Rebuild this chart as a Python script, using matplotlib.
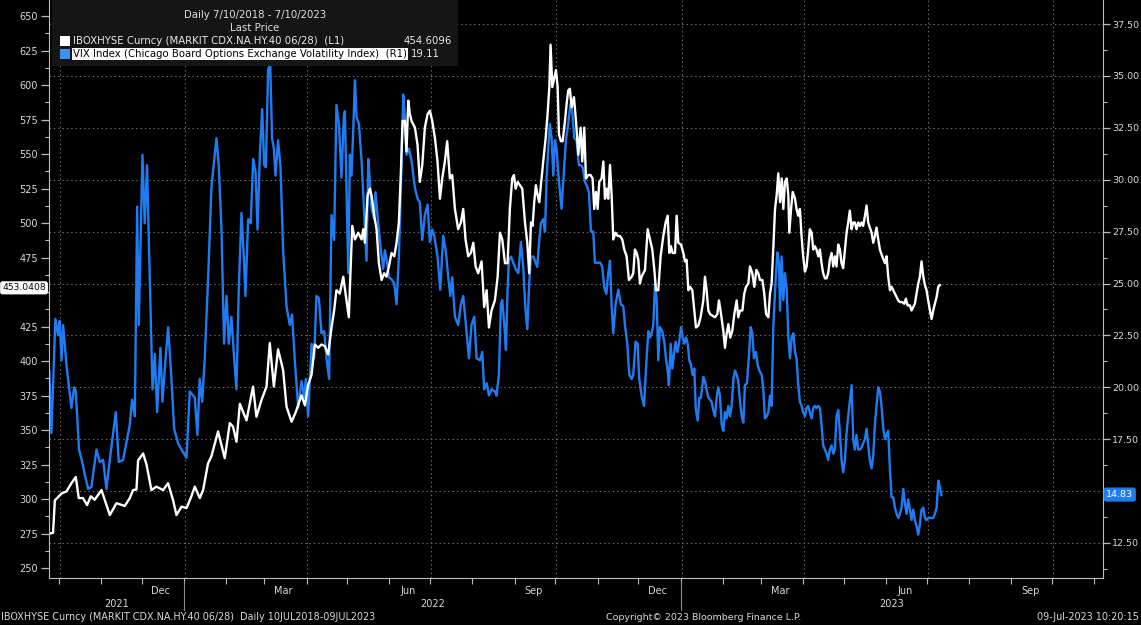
import matplotlib
matplotlib.use("Agg")
import matplotlib.pyplot as plt
import matplotlib.dates as mdates
import matplotlib.ticker as mticker
import matplotlib.transforms as mtrans
from matplotlib.patches import Rectangle
import pandas as pd

plt.rcParams['font.family'] = ['DejaVu Sans']

# ---------------- data ----------------
base_date = pd.Timestamp("2022-01-01")
view_start = pd.Timestamp("2021-09-23 17:00")
view_end = pd.Timestamp("2023-11-07 12:00")

# IBOXHYSE (CDX HY spread, left axis): days from 2022-01-01, values
hy_days = [
    -98.8, -96.3, -95.0, -90.1, -86.5, -82.8, -79.6, -77.4, -74.3, -71.3,
    -68.6, -65.7, -60.7, -54.6, -49.7, -43.6, -39.9, -37.5, -35.0, -33.8,
    -30.1, -27.6, -24.0, -20.3, -15.4, -11.8, -8.1, -5.6, -1.9, 1.8,
    5.4, 7.9, 11.5, 14.0, 17.6, 20.1, 25.0, 29.9, 33.6, 36.0,
    38.5, 41.0, 45.9, 50.7, 53.2, 56.9, 60.6, 63.0, 66.0, 69.1,
    72.8, 75.3, 79.0, 82.1, 86.3, 88.8, 91.2, 93.7, 96.1, 98.6,
    101.0, 103.5, 105.9, 108.4, 110.3, 112.0, 114.5, 117.0, 121.1, 123.6,
    125.6, 128.0, 130.5, 131.7, 132.9, 134.9, 136.6, 137.8, 139.8, 141.5,
    143.2, 145.2, 147.1, 148.8, 150.6, 152.5, 154.5, 156.2, 157.9, 159.4,
    160.6, 162.3, 163.5, 164.8, 166.0, 167.2, 169.7, 171.6, 173.3, 175.1,
    177.0, 179.0, 180.7, 182.4, 184.4, 186.3, 188.1, 189.8, 191.7, 193.4,
    195.4, 197.1, 199.1, 201.5, 203.5, 205.2, 206.9, 208.9, 210.8, 212.6,
    214.3, 216.2, 218.7, 220.6, 222.4, 224.1, 226.0, 228.5, 230.5, 232.2,
    233.9, 235.9, 237.8, 239.5, 241.2, 242.5, 243.7, 245.2, 246.9, 248.6,
    250.6, 252.3, 253.7, 255.0, 256.2, 257.4, 258.6, 259.9, 261.1, 262.3,
    264.0, 265.8, 267.2, 268.5, 269.4, 270.7, 272.1, 273.4, 274.6, 275.6,
    277.0, 278.3, 280.0, 281.2, 282.4, 283.6, 284.9, 286.6, 288.1, 289.8,
    291.5, 292.7, 294.2, 295.4, 297.1, 298.8, 300.3, 301.5, 302.8, 304.0,
    305.2, 306.9, 308.2, 309.4, 310.6, 311.8, 313.1, 314.3, 315.5, 317.2,
    318.7, 320.4, 322.1, 323.6, 325.3, 327.0, 329.0, 330.2, 331.4, 332.7,
    333.9, 335.1, 336.3, 338.8, 340.8, 342.5, 344.2, 345.7, 346.9, 348.6,
    350.3, 352.3, 354.0, 355.5, 356.7, 357.9, 359.1, 360.9, 362.1, 363.3,
    365.3, 367.0, 368.2, 369.4, 370.7, 371.9, 373.6, 375.1, 376.3, 378.0,
    379.7, 381.7, 382.9, 384.1, 385.4, 386.6, 388.3, 390.3, 392.0, 393.2,
    394.7, 396.4, 397.6, 398.8, 400.1, 401.5, 403.0, 404.5, 406.2, 407.4,
    408.7, 410.4, 411.8, 413.1, 414.8, 416.0, 417.7, 419.2, 420.7, 422.1,
    423.4, 425.1, 426.5, 427.8, 429.5, 430.7, 431.9, 433.2, 434.4, 435.6,
    436.8, 438.1, 439.3, 440.5, 441.7, 443.0, 444.2, 444.9, 446.2, 447.4,
    449.1, 450.2, 451.5, 452.7, 453.9, 455.1, 456.4, 457.6, 458.8, 460.0,
    461.3, 462.5, 463.7, 464.9, 466.2, 467.4, 468.6, 469.8, 471.1, 472.3,
    473.5, 474.7, 476.0, 477.2, 478.4, 479.6, 480.9, 482.1, 483.3, 484.5,
    485.8, 487.0, 488.2, 489.4, 490.7, 491.9, 493.1, 494.3, 495.6, 496.8,
    498.0, 499.2, 500.5, 501.7, 502.9, 504.1, 505.4, 506.6, 507.8, 509.0,
    510.3, 511.5, 513.2, 515.2, 516.4, 517.6, 518.9, 520.1, 521.3, 522.5,
    523.8, 525.0, 526.2, 527.9, 529.4, 530.6, 531.8, 533.6, 534.8, 536.0,
    537.2, 538.5, 539.7, 540.9, 542.1, 543.4, 544.6, 545.8, 547.0, 548.3,
    549.5, 550.7, 551.9, 553.2, 554.4, 555.6,
]
hy_vals = [
    275.0, 275.5, 299.0, 304.0, 305.5, 311.5, 316.0, 300.7, 300.7, 295.6,
    302.0, 299.5, 306.5, 288.4, 297.0, 295.0, 300.7, 306.5, 307.0, 328.0,
    333.0, 325.0, 306.5, 309.0, 306.5, 311.5, 299.3, 288.4, 294.5, 293.5,
    302.0, 309.0, 300.7, 306.5, 325.8, 331.0, 349.0, 329.6, 355.0, 352.5,
    341.5, 369.0, 357.0, 381.5, 359.6, 371.7, 381.5, 413.0, 381.5, 408.5,
    393.5, 367.0, 356.0, 363.0, 375.2, 367.9, 382.6, 390.0, 412.0, 409.6,
    412.0, 410.8, 404.7, 424.3, 436.6, 451.3, 448.9, 461.1, 431.7, 497.9,
    488.1, 493.0, 488.1, 495.5, 485.7, 520.0, 524.9, 520.0, 505.3, 495.5,
    470.9, 458.7, 463.6, 461.1, 468.5, 478.3, 475.9, 485.7, 500.4, 537.2,
    574.0, 574.0, 551.9, 588.7, 578.9, 574.0, 569.1, 556.8, 529.8, 542.1,
    569.1, 578.9, 581.4, 574.0, 561.7, 544.6, 517.6, 532.3, 544.6, 559.3,
    532.3, 534.8, 510.2, 495.5, 500.4, 510.2, 488.1, 475.9, 478.3, 485.7,
    468.5, 463.6, 472.2, 439.1, 451.3, 424.3, 436.6, 444.0, 461.1, 493.0,
    488.1, 470.9, 470.9, 510.2, 532.3, 534.8, 524.9, 529.8, 527.4, 524.9,
    500.4, 485.7, 463.6, 500.4, 497.9, 515.1, 527.4, 520.0, 515.1, 527.4,
    544.6, 561.7, 578.9, 598.5, 629.2, 598.5, 604.7, 610.8, 598.5, 564.2,
    559.3, 559.3, 574.0, 586.3, 596.1, 597.3, 583.8, 591.2, 574.0, 549.5,
    569.1, 544.6, 569.1, 532.3, 534.8, 534.8, 532.3, 510.2, 522.5, 510.2,
    529.8, 532.3, 544.6, 517.6, 524.9, 517.6, 542.1, 520.0, 488.1, 493.0,
    490.6, 490.6, 488.1, 480.8, 475.9, 458.7, 461.1, 463.6, 480.8, 478.3,
    473.4, 456.2, 461.1, 466.0, 495.5, 488.1, 480.8, 466.0, 451.3, 451.3,
    475.9, 490.6, 500.4, 505.3, 478.3, 483.2, 478.3, 478.3, 505.3, 485.7,
    484.4, 478.3, 472.2, 473.4, 451.3, 453.8, 451.3, 436.6, 424.3, 425.6,
    431.7, 443.9, 461.1, 451.3, 436.6, 434.1, 432.9, 431.7, 434.1, 443.9,
    434.1, 421.9, 409.6, 419.4, 426.8, 417.0, 421.9, 434.1, 443.9, 431.7,
    436.6, 436.6, 448.9, 453.8, 456.2, 468.5, 463.6, 453.8, 466.0, 463.6,
    458.7, 458.7, 448.9, 434.1, 431.7, 448.9, 456.2, 483.2, 510.2, 520.0,
    536.0, 515.1, 532.3, 510.2, 529.8, 532.3, 520.0, 493.0, 510.2, 522.5,
    517.6, 510.2, 505.3, 510.2, 490.6, 475.9, 464.8, 468.5, 480.8, 495.5,
    493.0, 480.8, 483.2, 480.8, 475.9, 480.8, 470.9, 463.6, 459.9, 459.9,
    463.6, 473.4, 478.3, 468.5, 475.9, 468.5, 484.4, 480.8, 470.9, 467.3,
    480.8, 493.0, 500.4, 509.0, 495.5, 500.4, 500.4, 495.5, 500.4, 497.9,
    500.4, 497.9, 505.3, 512.7, 500.4, 496.7, 493.0, 485.7, 490.6, 496.7,
    488.1, 480.8, 475.9, 470.9, 475.9, 461.1, 451.3, 453.8, 451.3, 448.9,
    446.4, 443.9, 442.7, 442.7, 441.5, 445.2, 440.3, 440.3, 436.6, 439.1,
    441.5, 448.9, 456.2, 461.1, 472.2, 461.1, 455.0, 451.3, 443.9, 436.6,
    430.5, 436.6, 441.5, 446.4, 453.8, 455.0,
]

# VIX (right axis): days from 2022-01-01, values
vix_days = [
    -99.0, -97.5, -94.6, -92.6, -91.4, -90.1, -88.9, -86.5, -82.8, -80.8,
    -79.6, -77.2, -74.9, -73.0, -70.5, -68.1, -64.4, -62.0, -59.5, -57.1,
    -54.6, -50.2, -48.0, -44.8, -39.9, -38.2, -36.2, -34.5, -33.3, -30.6,
    -28.9, -27.2, -25.9, -23.2, -21.5, -19.8, -17.4, -15.9, -13.7, -11.7,
    -9.3, -7.3, -4.4, -1.9, 1.8, 4.2, 7.9, 9.8, 11.5, 13.3,
    15.2, 17.7, 20.1, 22.1, 23.8, 25.5, 27.5, 29.4, 31.2, 32.9,
    34.8, 36.8, 38.5, 40.2, 42.2, 43.9, 45.1, 47.1, 49.0, 50.8,
    52.5, 54.0, 55.7, 57.4, 58.9, 60.1, 61.8, 63.3, 64.7, 66.0,
    67.2, 69.1, 70.9, 72.8, 75.3, 77.7, 79.4, 81.4, 83.9, 86.3,
    88.3, 89.5, 91.2, 93.7, 95.6, 97.3, 99.1, 101.0, 103.0, 104.7,
    106.6, 108.4, 110.3, 112.0, 113.8, 115.7, 117.4, 118.2, 119.4, 120.7,
    121.9, 123.1, 124.3, 125.6, 126.8, 128.5, 130.5, 132.4, 134.1, 135.4,
    136.6, 137.8, 139.8, 140.7, 142.7, 144.7, 146.4, 147.6, 149.3, 150.6,
    152.5, 154.5, 156.2, 157.9, 159.4, 161.1, 162.3, 163.5, 165.3, 167.2,
    169.7, 171.6, 173.3, 175.1, 177.0, 179.0, 180.7, 182.4, 183.9, 186.3,
    188.3, 190.5, 192.5, 194.2, 195.7, 197.1, 199.1, 201.5, 203.5, 205.2,
    207.2, 209.4, 211.3, 213.3, 215.0, 217.5, 219.2, 220.6, 222.4, 224.1,
    226.0, 228.5, 229.7, 231.4, 232.9, 233.9, 235.4, 236.6, 237.8, 238.8,
    240.3, 242.0, 243.7, 245.7, 247.6, 249.3, 251.0, 252.3, 253.7, 255.0,
    256.7, 257.9, 259.6, 261.1, 262.3, 264.0, 265.3, 266.5, 267.7, 268.9,
    270.2, 271.4, 272.6, 273.8, 275.6, 277.5, 279.2, 280.7, 282.4, 284.1,
    285.4, 286.8, 288.5, 290.3, 291.7, 293.0, 294.7, 296.1, 297.6, 299.1,
    300.8, 302.0, 304.0, 306.0, 307.4, 308.9, 310.4, 311.8, 313.1, 314.3,
    315.5, 317.2, 319.2, 321.1, 322.9, 324.1, 325.8, 327.3, 329.0, 330.2,
    331.9, 333.4, 334.6, 336.3, 338.1, 340.0, 341.3, 342.5, 343.7, 344.9,
    346.2, 347.4, 348.6, 349.8, 351.5, 353.0, 354.2, 355.5, 356.4, 357.7,
    358.9, 360.4, 361.3, 362.6, 363.8, 365.3, 366.5, 367.7, 369.0, 370.2,
    371.4, 372.6, 373.8, 375.1, 376.1, 377.5, 378.8, 380.0, 381.7, 382.9,
    384.1, 385.4, 386.6, 387.8, 389.0, 390.3, 391.5, 392.7, 393.9, 395.2,
    396.4, 397.6, 398.8, 400.1, 401.3, 402.5, 403.8, 405.0, 406.2, 407.4,
    408.7, 409.9, 411.1, 412.3, 413.8, 415.3, 416.5, 417.7, 418.9, 420.4,
    421.6, 422.9, 424.6, 425.8, 427.0, 428.3, 429.5, 430.7, 431.9, 433.2,
    434.9, 436.1, 437.3, 438.1, 439.3, 440.5, 441.7, 443.0, 444.2, 445.4,
    446.6, 447.9, 449.1, 450.2, 451.5, 452.7, 453.9, 455.1, 456.4, 457.6,
    458.8, 460.0, 461.3, 462.5, 463.7, 464.9, 466.2, 467.4, 468.6, 469.8,
    471.1, 472.3, 473.5, 474.7, 476.0, 477.2, 478.4, 479.6, 480.9, 482.1,
    483.3, 484.5, 485.8, 487.0, 488.2, 489.4, 490.7, 491.9, 493.1, 494.3,
    495.6, 496.8, 498.0, 499.2, 500.5, 501.7, 502.9, 504.1, 505.4, 506.6,
    507.8, 509.0, 510.3, 511.5, 512.7, 514.0, 515.2, 516.4, 517.6, 518.9,
    520.1, 521.3, 522.5, 523.8, 525.0, 526.2, 527.4, 528.7, 529.9, 531.1,
    532.3, 533.6, 534.8, 536.0, 537.2, 538.5, 539.7, 540.9, 542.1, 543.4,
    544.6, 545.8, 547.0, 548.3, 549.5, 550.7, 551.9, 553.2, 554.4, 555.6, 556.8,
]
vix_vals = [
    20.8, 17.8, 23.3, 22.5, 23.2, 21.3, 23.0, 21.1, 19.0, 20.0,
    19.8, 17.0, 16.4, 15.8, 15.1, 15.2, 17.0, 16.4, 16.5, 15.1,
    16.5, 18.8, 16.4, 16.5, 18.2, 19.4, 18.6, 28.7, 23.0, 31.2,
    27.9, 30.7, 27.1, 19.9, 21.6, 18.8, 21.9, 19.3, 21.3, 22.9,
    20.4, 18.0, 17.3, 17.0, 16.6, 19.8, 19.5, 17.7, 20.4, 19.3,
    21.4, 25.3, 29.6, 30.9, 32.0, 30.7, 27.6, 22.1, 24.4, 22.1,
    23.4, 21.4, 19.9, 24.7, 28.4, 26.3, 24.4, 28.1, 27.9, 31.0,
    30.4, 27.6, 31.2, 33.4, 30.7, 30.6, 35.3, 35.6, 32.0, 31.5,
    30.2, 31.9, 30.6, 26.6, 23.9, 23.0, 23.5, 21.3, 19.0, 20.3,
    19.5, 20.4, 18.6, 22.1, 21.4, 24.4, 24.3, 22.6, 22.7, 21.4,
    20.4, 28.3, 27.1, 33.6, 32.7, 30.1, 33.0, 33.3, 29.6, 25.5,
    31.2, 30.2, 32.3, 34.8, 33.0, 32.7, 30.9, 28.4, 26.1, 31.0,
    29.9, 28.6, 28.1, 29.4, 27.9, 26.6, 25.7, 26.6, 26.0, 25.3,
    25.2, 25.0, 24.0, 26.3, 29.6, 34.1, 33.0, 31.2, 31.5, 30.9,
    29.6, 29.1, 28.9, 27.1, 28.3, 28.8, 27.0, 27.6, 27.3, 26.3,
    24.7, 27.3, 26.5, 25.3, 24.4, 25.3, 23.4, 23.0, 24.0, 24.4,
    23.0, 21.4, 23.0, 23.4, 21.4, 21.3, 21.7, 19.9, 20.2, 19.6,
    19.9, 19.8, 19.6, 20.6, 24.0, 24.2, 23.0, 21.8, 24.7, 26.1,
    26.3, 26.0, 25.7, 25.5, 27.0, 25.8, 23.7, 22.8, 25.0, 26.3,
    26.3, 26.1, 25.8, 27.1, 27.9, 28.1, 27.5, 30.1, 31.5, 32.7,
    32.0, 30.2, 31.9, 31.5, 29.9, 28.6, 30.4, 31.9, 32.7, 33.7,
    33.2, 32.0, 31.9, 30.7, 30.7, 30.6, 29.9, 29.7, 29.4, 27.5,
    27.5, 26.0, 26.0, 26.0, 25.8, 24.8, 24.5, 25.5, 26.1, 23.9,
    22.6, 24.0, 24.7, 24.0, 23.9, 23.0, 22.1, 20.6, 20.4, 20.6,
    22.2, 22.1, 20.4, 19.6, 19.1, 21.4, 22.7, 22.4, 22.6, 23.0,
    25.0, 24.2, 21.3, 22.9, 22.7, 22.2, 21.4, 20.8, 20.1, 22.1,
    20.9, 21.7, 22.2, 21.7, 22.1, 22.9, 22.4, 22.1, 22.4, 22.1,
    21.3, 21.1, 20.6, 20.9, 19.0, 18.4, 19.5, 19.5, 20.5, 20.3,
    19.9, 19.5, 19.4, 19.3, 18.9, 18.6, 19.5, 20.0, 19.6, 18.2,
    17.9, 18.8, 18.5, 19.1, 18.6, 19.1, 20.4, 20.8, 20.6, 20.3,
    19.3, 18.6, 18.3, 20.1, 20.2, 21.6, 22.9, 22.6, 21.4, 21.7,
    21.1, 20.8, 20.6, 19.9, 18.5, 18.6, 18.8, 19.6, 19.1, 23.0,
    25.2, 26.5, 26.0, 23.7, 26.3, 24.2, 25.5, 24.7, 22.4, 21.4,
    22.4, 22.6, 21.7, 21.4, 20.1, 19.3, 19.1, 18.8, 18.6, 19.0,
    19.1, 18.8, 18.5, 19.0, 19.1, 19.0, 19.1, 19.0, 18.2, 17.2,
    17.0, 16.8, 16.5, 17.0, 17.2, 16.8, 17.0, 18.6, 18.9, 17.8,
    16.5, 15.9, 16.5, 17.8, 18.6, 19.3, 20.1, 17.5, 17.0, 17.7,
    17.0, 17.0, 17.1, 17.3, 17.5, 18.0, 17.2, 16.5, 16.1, 16.7,
    18.2, 19.1, 20.0, 19.8, 19.1, 18.0, 17.5, 17.7, 17.9, 16.0,
    14.7, 14.7, 14.2, 13.9, 13.7, 13.9, 14.2, 15.1, 14.4, 13.9,
    14.6, 14.1, 13.6, 14.1, 13.6, 13.3, 12.9, 13.4, 14.1, 14.2,
    13.7, 13.6, 13.7, 13.7, 13.7, 13.7, 13.9, 14.2, 15.5, 15.2, 14.8,
]

left_ticks = [250, 275, 300, 325, 350, 375, 400, 425, 450, 475, 500,
              525, 550, 575, 600, 625, 650]
right_ticks = [12.5, 15.0, 17.5, 20.0, 22.5, 25.0, 27.5, 30.0, 32.5, 35.0, 37.5]
left_lim = (242.8, 661.6)
right_lim = (10.81, 38.66)
years = [2021, 2022, 2023]

hy_name = "IBOXHYSE Curncy (MARKIT CDX.NA.HY.40 06/28)  (L1)"
vix_name = "VIX Index (Chicago Board Options Exchange Volatility Index)  (R1)"
hy_legend_value = "454.6096"
vix_legend_value = "19.11"
hy_marker_value = 453.0408
vix_marker_value = 14.83

# ---------------- figure ----------------
W, H = 1141, 625
fig = plt.figure(figsize=(W / 100, H / 100), dpi=100, facecolor='black')


def px(x, y):
    return (x / W, 1 - y / H)


ax = fig.add_axes([49 / W, 1 - 578 / H, (1103 - 49) / W, 578 / H])
ax2 = ax.twinx()
ax.set_zorder(ax2.get_zorder() + 1)
ax.patch.set_visible(False)
ax2.patch.set_visible(True)
ax2.patch.set_facecolor('black')

hy_dates = base_date + pd.to_timedelta(hy_days, unit='D')
vix_dates = base_date + pd.to_timedelta(vix_days, unit='D')

grid_color = '#6c6c6c'
grid_ls = (0, (1.3, 2.6))
ax2.set_yticks(right_ticks)
ax2.grid(axis='y', color=grid_color, linestyle=grid_ls, linewidth=0.8)
for q in pd.date_range(view_start, view_end, freq='QS'):
    ax2.axvline(mdates.date2num(q), color=grid_color, linestyle=grid_ls, linewidth=0.8, zorder=0.5)

ax2.plot(vix_dates, vix_vals, color='#1f7cf2', lw=1.7, solid_joinstyle='round')
ax.plot(hy_dates, hy_vals, color='white', lw=1.7, solid_joinstyle='round')

ax.set_xlim(view_start, view_end)
ax.set_ylim(*left_lim)
ax2.set_ylim(*right_lim)

spine_c = '#bdbdbd'
lab_c = '#d9d9d9'
for s in ['top', 'right']:
    ax.spines[s].set_visible(False)
for s in ['top', 'left', 'bottom']:
    ax2.spines[s].set_visible(False)
ax.spines['left'].set_color(spine_c)
ax.spines['bottom'].set_color(spine_c)
ax2.spines['right'].set_color(spine_c)


# labels hidden under the last-value markers (as on the reference)
def left_fmt(v, pos):
    return '' if abs(v - 450) < 1e-6 else f"{v:.0f}"


def right_fmt(v, pos):
    return '' if abs(v - 15.0) < 1e-6 else f"{v:.2f}"


ax.yaxis.set_major_locator(mticker.FixedLocator(left_ticks))
ax.yaxis.set_minor_locator(mticker.MultipleLocator(12.5))
ax.yaxis.set_major_formatter(mticker.FuncFormatter(left_fmt))
ax.tick_params(axis='y', which='major', direction='out', length=6, width=0.9,
               color=spine_c, labelcolor=lab_c, labelsize=7, pad=2)
ax.tick_params(axis='y', which='minor', direction='out', length=3, width=0.8, color=spine_c)

ax2.yaxis.set_major_locator(mticker.FixedLocator(right_ticks))
ax2.yaxis.set_minor_locator(mticker.MultipleLocator(1.25))
ax2.yaxis.set_major_formatter(mticker.FuncFormatter(right_fmt))
ax2.tick_params(axis='y', which='major', direction='out', length=5, width=0.9,
                color=spine_c, labelcolor=lab_c, labelsize=6.8, pad=1.5)
ax2.tick_params(axis='y', which='minor', direction='out', length=3, width=0.8, color=spine_c)

ax.xaxis.set_major_locator(mdates.MonthLocator(bymonth=[3, 6, 9, 12], bymonthday=15))
ax.xaxis.set_major_formatter(mdates.DateFormatter('%b'))
ax.xaxis.set_minor_locator(mdates.MonthLocator())
ax.tick_params(axis='x', which='major', length=0, pad=5.5, labelcolor=lab_c, labelsize=7)
ax.tick_params(axis='x', which='minor', direction='out', length=4, width=0.8, color=spine_c)

# year labels and separators
trans = mtrans.blended_transform_factory(ax.transData, ax.transAxes)
for y in years:
    s = max(view_start, pd.Timestamp(f"{y}-01-01"))
    e = min(view_end, pd.Timestamp(f"{y + 1}-01-01"))
    mid = s + (e - s) / 2
    ax.text(mdates.date2num(mid), -0.045, str(y), transform=trans, ha='center', va='center',
            color=lab_c, fontsize=7, clip_on=False)
    jan = pd.Timestamp(f"{y}-01-01")
    if view_start < jan < view_end:
        xn = mdates.date2num(jan)
        ax.plot([xn, xn], [-0.007, -0.056], transform=trans, color='#8c8c8c', lw=0.8, clip_on=False)

# last value markers
tl = mtrans.blended_transform_factory(ax.transAxes, ax.transData)
ax.text(-0.003, hy_marker_value, f"{hy_marker_value:.4f}", transform=tl, ha='right', va='center',
        color='black', fontsize=6.6, zorder=10, clip_on=False,
        bbox=dict(boxstyle='round,pad=0.15,rounding_size=0.2', fc='white', ec='white'))
tr = mtrans.blended_transform_factory(ax2.transAxes, ax2.transData)
ax2.text(1.003, vix_marker_value, f"{vix_marker_value:.2f}", transform=tr, ha='left', va='center',
         color='white', fontsize=6.8, zorder=10, clip_on=False,
         bbox=dict(boxstyle='round,pad=0.2,rounding_size=0.2', fc='#1f7cf2', ec='#1f7cf2'))

# legend panel
fig.add_artist(Rectangle(px(52, 66), 406 / W, 66 / H, transform=fig.transFigure,
                         facecolor='#151515', edgecolor='none', zorder=5))
fig.text(*px(255, 15), "Daily 7/10/2018 - 7/10/2023", ha='center', va='center',
         color='#e0e0e0', fontsize=7.3, zorder=6)
fig.text(*px(255, 28), "Last Price", ha='center', va='center', color='#e0e0e0', fontsize=7.3, zorder=6)
fig.add_artist(Rectangle(px(60, 46), 10 / W, 10 / H, transform=fig.transFigure,
                         facecolor='white', edgecolor='none', zorder=6))
fig.add_artist(Rectangle(px(60, 59), 10 / W, 10 / H, transform=fig.transFigure,
                         facecolor='#3f8ff5', edgecolor='none', zorder=6))
fig.text(*px(73, 41), hy_name, ha='left', va='center', color='#e8e8e8', fontsize=7.3, zorder=6)
fig.text(*px(452, 41), hy_legend_value, ha='right', va='center', color='#e8e8e8', fontsize=7.3, zorder=6)
fig.text(*px(73, 54), vix_name, ha='left', va='center', color='black', fontsize=7.3, zorder=6,
         bbox=dict(boxstyle='square,pad=0.08', fc='white', ec='none'))
fig.text(*px(440, 54), vix_legend_value, ha='right', va='center', color='#e8e8e8', fontsize=7.3, zorder=6)

# footer
fig.text(*px(1, 617), "IBOXHYSE Curncy (MARKIT CDX.NA.HY.40 06/28)  Daily 10JUL2018-09JUL2023",
         ha='left', va='center', color='#d9d9d9', fontsize=6.9)
fig.text(*px(606, 617), "Copyright\u00a9 2023 Bloomberg Finance L.P.", ha='left', va='center',
         color='#d9d9d9', fontsize=6.8)
fig.text(*px(1139, 617), "09-Jul-2023 10:20:15", ha='right', va='center', color='#d9d9d9', fontsize=6.9)

fig.savefig("out.png", dpi=100, facecolor='black')
